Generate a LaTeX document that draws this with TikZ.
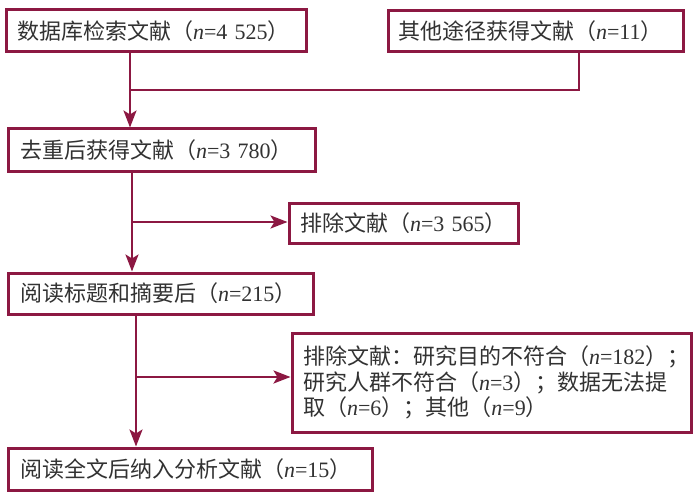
\documentclass[tikz,border=0pt]{standalone}
\usepackage{fontspec}
\setmainfont{Liberation Serif}
\newfontfamily\cjk{Noto Sans CJK SC}
\usetikzlibrary{arrows.meta}
\definecolor{frame}{RGB}{140,24,66}
\definecolor{ink}{RGB}{50,50,50}
\newcommand{\zh}[1]{{\cjk #1}}
\newcommand{\nv}[1]{\textit{n}=#1}
\begin{document}
\begin{tikzpicture}[x=1pt,y=-1pt,
  box/.style={draw=frame, line width=3pt, text=ink, anchor=north west,
    outer sep=0pt, inner ysep=0pt, align=left,
    font=\fontsize{22}{25.5}\selectfont},
  conn/.style={draw=frame, line width=2.5pt},
  arr/.style={conn, -{Stealth[length=17pt,width=13pt,inset=4pt]}, shorten >=1.5pt}]
\useasboundingbox (0,0) rectangle (693,492);
\fill[white] (0,0) rectangle (693,492);

\node[box, inner xsep=11pt, text width=278pt, minimum height=42pt] (b1) at (6,10)
  {\zh{数据库检索文献（}\nv{4~525}\zh{）}};
\node[box, inner xsep=10pt, text width=275pt, minimum height=41pt] (b2) at (388,11)
  {\zh{其他途径获得文献（}\nv{11}\zh{）}};
\node[box, inner xsep=12pt, text width=283pt, minimum height=42pt] (b3) at (8,129)
  {\zh{去重后获得文献（}\nv{3~780}\zh{）}};
\node[box, inner xsep=11pt, text width=207pt, minimum height=40pt] (b5) at (289,203)
  {\zh{排除文献（}\nv{3~565}\zh{）}};
\node[box, inner xsep=12pt, text width=281pt, minimum height=41pt] (b4) at (8,273)
  {\zh{阅读标题和摘要后（}\nv{215}\zh{）}};
\node[box, inner xsep=11pt, text width=377pt, minimum height=99pt] (b6) at (292,333)
  {\zh{排除文献：研究目的不符合（}\nv{182}\zh{）；}\\
   \zh{研究人群不符合（}\nv{3}\zh{）；数据无法提}\\
   \zh{取（}\nv{6}\zh{）；其他（}\nv{9}\zh{）}};
\node[box, inner xsep=12pt, text width=340pt, minimum height=42pt] (b7) at (8,448)
  {\zh{阅读全文后纳入分析文献（}\nv{15}\zh{）}};

\coordinate (xa) at (130,0);
\coordinate (xb) at (132,0);
\coordinate (xc) at (136,0);
\coordinate (xd) at (579,0);
\coordinate (ya) at (0,90);
\coordinate (yb) at (0,222);
\coordinate (yc) at (0,377);

\draw[arr] (b1.south -| xa) -- (b3.north -| xa);
\draw[conn] (b2.south -| xd) -- (xd |- ya) -- (xa |- ya);
\draw[arr] (b3.south -| xb) -- (b4.north -| xb);
\draw[arr] (xb |- yb) -- (b5.west |- yb);
\draw[arr] (b4.south -| xc) -- (b7.north -| xc);
\draw[arr] (xc |- yc) -- (b6.west |- yc);
\end{tikzpicture}
\end{document}
